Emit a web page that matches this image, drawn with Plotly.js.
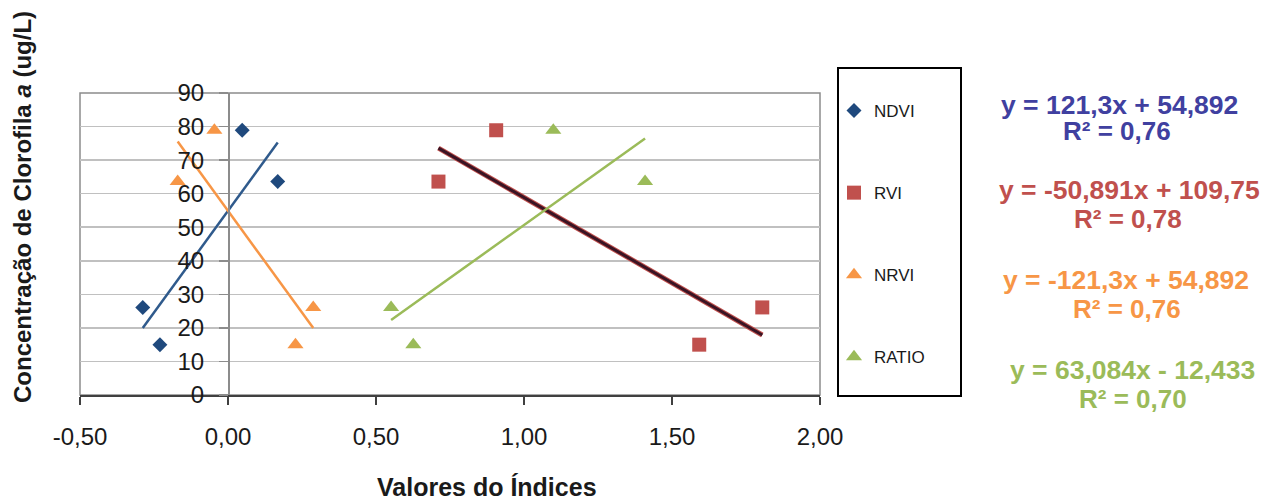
<!DOCTYPE html>
<html>
<head>
<meta charset="utf-8">
<script src="https://cdn.plot.ly/plotly-3.0.1.min.js"></script>
<style>
html,body{margin:0;padding:0;background:#fff;}
#chart{width:1263px;height:500px;}
</style>
</head>
<body>
<div id="chart"></div>
<script>
// ---- data ----
const seriesNames = ["NDVI", "RVI", "NRVI", "RATIO"];
const chlorophyll = [26.1, 15.0, 78.9, 63.6];        // Concentração de Clorofila a (ug/L)
const ndviX  = [-0.288, -0.230, 0.048, 0.168];
const rviX   = [1.805, 1.592, 0.906, 0.711];
const nrviX  = [0.288, 0.228, -0.046, -0.170];
const ratioX = [0.551, 0.626, 1.099, 1.409];
const slopes     = [121.3, -50.891, -121.3, 63.084];
const intercepts = [54.892, 109.75, 54.892, -12.433];
const equationTexts = ["y = 121,3x + 54,892", "y = -50,891x + 109,75", "y = -121,3x + 54,892", "y = 63,084x - 12,433"];
const r2Texts = ["R² = 0,76", "R² = 0,78", "R² = 0,76", "R² = 0,70"];
const xTickVals = [-0.5, 0, 0.5, 1.0, 1.5, 2.0];
const xTickText = ["-0,50", "0,00", "0,50", "1,00", "1,50", "2,00"];
const yTickVals = [0, 10, 20, 30, 40, 50, 60, 70, 80, 90];

// ---- styles ----
const markerColors = ["#1F497D", "#C0504D", "#F79646", "#9BBB59"];
const lineColors   = ["#2F5A8C", "#3A1424", "#F79646", "#9BBB59"];
const eqColors     = ["#4040A0", "#C0504D", "#F79646", "#9BBB59"];
const symbols      = ["diamond", "square", "triangle-up", "triangle-up"];
const sizes        = [11.5, 14, 14, 14];
const FONT = "Liberation Sans, Arial, sans-serif";

const xs = [ndviX, rviX, nrviX, ratioX];

// plot area in pixels (for paper conversion of annotations)
const L = 80, R = 820, T = 93, B = 395;
const px = v => (v - L) / (R - L);
const py = v => (B - v) / (B - T);

const traces = [];
// trend lines first (below markers)
xs.forEach((arr, i) => {
  const x0 = Math.min(...arr), x1 = Math.max(...arr);
  const lx = [x0, x1];
  const ly = lx.map(x => slopes[i] * x + intercepts[i]);
  if (i === 1) {
    traces.push({x: lx, y: ly, mode: "lines", showlegend: false, hoverinfo: "skip",
      line: {color: "#C0504D", width: 5}});
  }
  traces.push({x: lx, y: ly, mode: "lines", showlegend: false, hoverinfo: "skip",
    line: {color: lineColors[i], width: i === 1 ? 3 : 2.5}});
});
xs.forEach((arr, i) => {
  traces.push({
    x: arr, y: chlorophyll, mode: "markers", name: seriesNames[i],
    legendgroup: seriesNames[i],
    marker: {symbol: symbols[i], size: sizes[i], color: markerColors[i], line: {width: 0}}
  });
});

const eqY = [105, 190, 280, 370];
const eqX = [1119, 1129, 1126, 1132];
const r2Y = [131, 219, 309, 399];
const r2X = [1117, 1128, 1127, 1133];
const annotations = [];
equationTexts.forEach((t, i) => {
  annotations.push({xref: "paper", yref: "paper", x: px(eqX[i]), y: py(eqY[i]), xanchor: "center", yanchor: "middle",
    text: "<b>" + t + "</b>", showarrow: false, font: {family: FONT, size: 26.5, color: eqColors[i]}});
  annotations.push({xref: "paper", yref: "paper", x: px(r2X[i]), y: py(r2Y[i]), xanchor: "center", yanchor: "middle",
    text: "<b>" + r2Texts[i] + "</b>", showarrow: false, font: {family: FONT, size: 26, color: eqColors[i]}});
});
annotations.push({xref: "paper", yref: "paper", x: px(487), y: py(487), xanchor: "center", yanchor: "middle",
  text: "<b>Valores do Índices</b>", showarrow: false, font: {family: FONT, size: 25, color: "#1a1a1a"}});
annotations.push({xref: "paper", yref: "paper", x: px(22), y: py(207), xanchor: "center", yanchor: "middle",
  textangle: -90, text: "<b>Concentração de Clorofila <i>a</i> (ug/L)</b>", showarrow: false,
  font: {family: FONT, size: 24, color: "#1a1a1a"}});

const layout = {
  width: 1263, height: 500,
  margin: {l: L, r: 1263 - R, t: T, b: 500 - B, pad: 0},
  paper_bgcolor: "#ffffff", plot_bgcolor: "#ffffff",
  separators: ", ",
  font: {family: FONT, color: "#1a1a1a"},
  showlegend: true,
  xaxis: {
    range: [-0.5, 2.0], tickvals: xTickVals, ticktext: xTickText,
    showgrid: false, zeroline: false,
    showline: true, linecolor: "#404040", linewidth: 2,
    ticks: "outside", ticklen: 8, tickwidth: 2, tickcolor: "#404040",
    tickfont: {family: FONT, size: 24, color: "#1a1a1a"},
    ticklabelstandoff: 11
  },
  yaxis: {
    range: [0, 90], tickvals: yTickVals,
    anchor: "free", position: 0.2,
    showgrid: true, gridcolor: "#c0c0c0", gridwidth: 1.5,
    zeroline: false,
    showline: true, linecolor: "#8c8c8c", linewidth: 1.5,
    ticks: "outside", ticklen: 9, tickwidth: 1.5, tickcolor: "#8c8c8c",
    tickfont: {family: FONT, size: 24, color: "#1a1a1a"},
    ticklabelstandoff: 10
  },
  legend: {
    x: px(834), y: py(93), xanchor: "left", yanchor: "top",
    bgcolor: "rgba(0,0,0,0)", borderwidth: 0,
    font: {family: FONT, size: 17, color: "#1a1a1a"},
    tracegroupgap: 57, itemclick: false
  },
  shapes: [
    {type: "rect", xref: "paper", yref: "paper", x0: 0, x1: 1, y0: 0, y1: 1,
      line: {color: "#8c8c8c", width: 1.5}, layer: "below"},
    {type: "rect", xref: "paper", yref: "paper", x0: px(838), x1: px(961), y0: py(396), y1: py(68),
      line: {color: "#000000", width: 2}}
  ],
  annotations: annotations
};

Plotly.newPlot("chart", traces, layout, {displayModeBar: false, staticPlot: true});
</script>
</body>
</html>
